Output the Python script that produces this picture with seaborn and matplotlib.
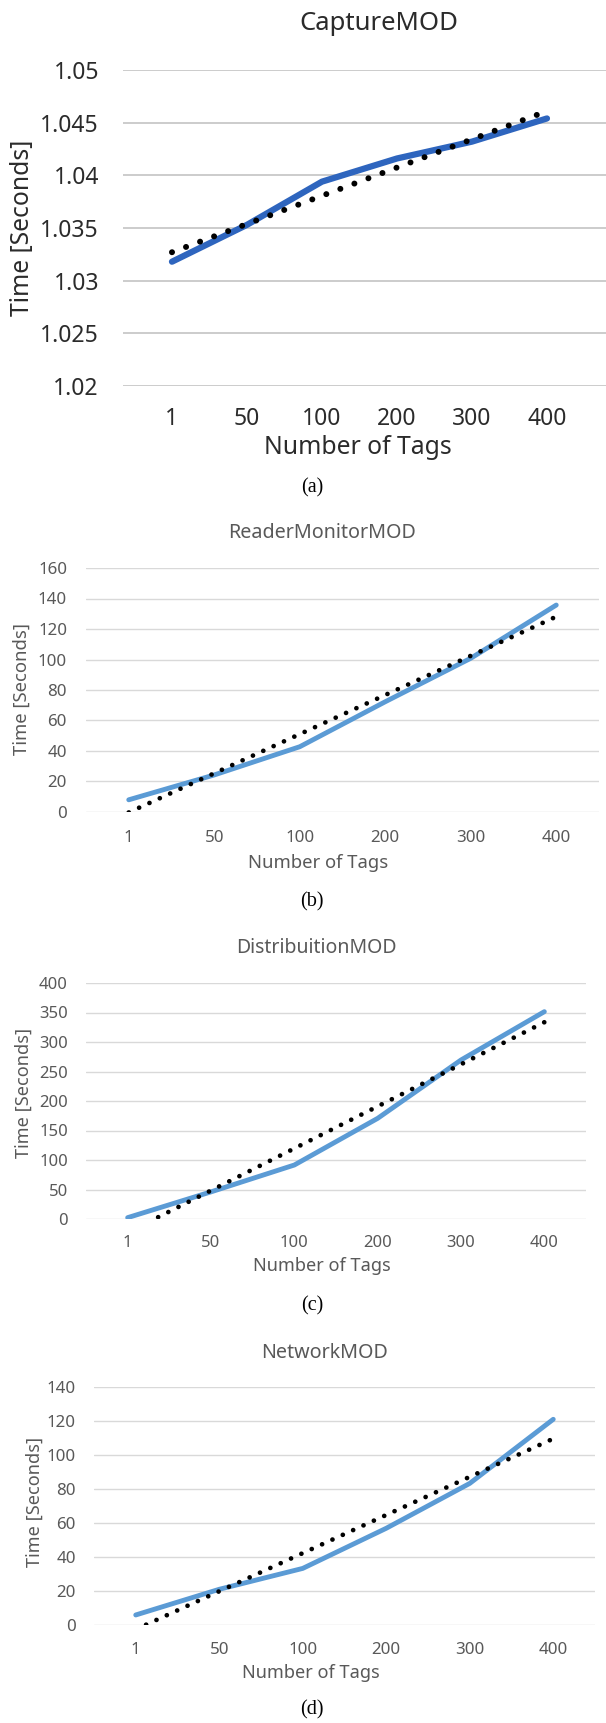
import matplotlib.pyplot as plt
import seaborn as sns

# figure size in pixels (dpi 100)
W, H = 606, 1723

# category axis shared by all four charts
tags = ["1", "50", "100", "200", "300", "400"]

# measured times (blue line) and linear trend end points (dotted line)
capture_time = [1.0318, 1.0353, 1.0394, 1.0416, 1.0432, 1.0454]
capture_trend = [1.0327, 1.0461]

reader_time = [8, 24.3, 42.8, 72.3, 100.8, 135.7]
reader_trend = [-0.3, 128.1]

distrib_time = [2.3, 46, 91.5, 170.6, 269.5, 351.4]
distrib_trend = [-23, 333.5]

network_time = [5.9, 21, 33.3, 56.9, 83.3, 121]
network_trend = [-2.6, 109.6]

titles = ["CaptureMOD", "ReaderMonitorMOD", "DistribuitionMOD", "NetworkMOD"]
captions = ["(a)", "(b)", "(c)", "(d)"]

capture_yticks = [1.02, 1.025, 1.03, 1.035, 1.04, 1.045, 1.05]
reader_yticks = [0, 20, 40, 60, 80, 100, 120, 140, 160]
distrib_yticks = [0, 50, 100, 150, 200, 250, 300, 350, 400]
network_yticks = [0, 20, 40, 60, 80, 100, 120, 140]

sns.set_theme(style="white")
plt.rcParams["font.family"] = ["Noto Sans", "DejaVu Sans"]

fig = plt.figure(figsize=(W / 100, H / 100), dpi=100)

# layout of each panel, in pixels
panels = [
    dict(time=capture_time, trend=capture_trend, yticks=capture_yticks,
         box=(123, 70, 606, 386), xlim=(-0.653, 5.787),
         color="#2E65BE", lw=4.5, dot_lw=4.3, gap=2.5, grid="#CCCCCC", grid_lw=1.4,
         text="#2B2B2B", tick_fs=16.5, label_fs=17.8, title_fs=18.5,
         title_xy=(379, 24), xlabel_xy=(358, 448), ylabel_xy=(23, 228),
         xpad=23.8, ypad=17.3, caption_y=488),
    dict(time=reader_time, trend=reader_trend, yticks=reader_yticks,
         box=(86, 568, 599, 812), xlim=(-0.5, 5.5),
         color="#5B9BD5", lw=3.5, dot_lw=3.4, gap=2.4, grid="#D9D9D9", grid_lw=1.0,
         text="#595959", tick_fs=12.2, label_fs=13.3, title_fs=14.2,
         title_xy=(322, 533), xlabel_xy=(318, 863), ylabel_xy=(22, 689),
         xpad=18.7, ypad=13.7, caption_y=902),
    dict(time=distrib_time, trend=distrib_trend, yticks=distrib_yticks,
         box=(86, 983, 586, 1219), xlim=(-0.5, 5.5),
         color="#5B9BD5", lw=3.5, dot_lw=3.4, gap=2.4, grid="#D9D9D9", grid_lw=1.0,
         text="#595959", tick_fs=12.0, label_fs=13.1, title_fs=14.0,
         title_xy=(316, 948), xlabel_xy=(322, 1266), ylabel_xy=(24, 1093),
         xpad=17.3, ypad=13.0, caption_y=1306),
    dict(time=network_time, trend=network_trend, yticks=network_yticks,
         box=(94, 1387, 595, 1625), xlim=(-0.5, 5.5),
         color="#5B9BD5", lw=3.5, dot_lw=3.4, gap=2.4, grid="#D9D9D9", grid_lw=1.0,
         text="#595959", tick_fs=12.2, label_fs=13.1, title_fs=14.2,
         title_xy=(325, 1353), xlabel_xy=(311, 1673), ylabel_xy=(35, 1502),
         xpad=18.0, ypad=13.0, caption_y=1710),
]

for p, title, caption in zip(panels, titles, captions):
    x0, y0, x1, y1 = p["box"]
    ax = fig.add_axes([x0 / W, 1 - y1 / H, (x1 - x0) / W, (y1 - y0) / H])

    sns.lineplot(x=tags, y=p["time"], ax=ax, sort=False, color=p["color"],
                 linewidth=p["lw"], solid_capstyle="round")
    sns.lineplot(x=[tags[0], tags[-1]], y=p["trend"], ax=ax, sort=False,
                 color="black", linewidth=p["dot_lw"],
                 linestyle=(0, (0.01, p["gap"])), dash_capstyle="round")

    ax.set_xlim(*p["xlim"])
    ax.set_ylim(p["yticks"][0], p["yticks"][-1])
    ax.set_yticks(p["yticks"])
    ax.set_yticklabels([f"{v:g}" for v in p["yticks"]])
    ax.set_xlabel("")
    ax.set_ylabel("")

    ax.yaxis.grid(True, color=p["grid"], linewidth=p["grid_lw"])
    ax.xaxis.grid(False)
    for s in ax.spines.values():
        s.set_visible(False)
    ax.tick_params(axis="both", length=0, labelsize=p["tick_fs"], labelcolor=p["text"])
    ax.tick_params(axis="x", pad=p["xpad"])
    ax.tick_params(axis="y", pad=p["ypad"])
    for t in ax.get_xticklabels():
        t.set_verticalalignment("center")
    ax.set_facecolor("white")

    tx, ty = p["title_xy"]
    fig.text(tx / W, 1 - ty / H, title, ha="center", va="center",
             fontsize=p["title_fs"], color=p["text"])
    lx, ly = p["xlabel_xy"]
    fig.text(lx / W, 1 - ly / H, "Number of Tags", ha="center", va="center",
             fontsize=p["label_fs"], color=p["text"])
    vx, vy = p["ylabel_xy"]
    fig.text(vx / W, 1 - vy / H, "Time [Seconds]", ha="center", va="center",
             rotation=90, fontsize=p["label_fs"], color=p["text"])
    fig.text(312 / W, 1 - p["caption_y"] / H, caption, ha="center", va="center",
             fontsize=14.5, color="black", family=["Liberation Serif", "DejaVu Serif"])

fig.savefig("out.png", dpi=100, facecolor="white")
